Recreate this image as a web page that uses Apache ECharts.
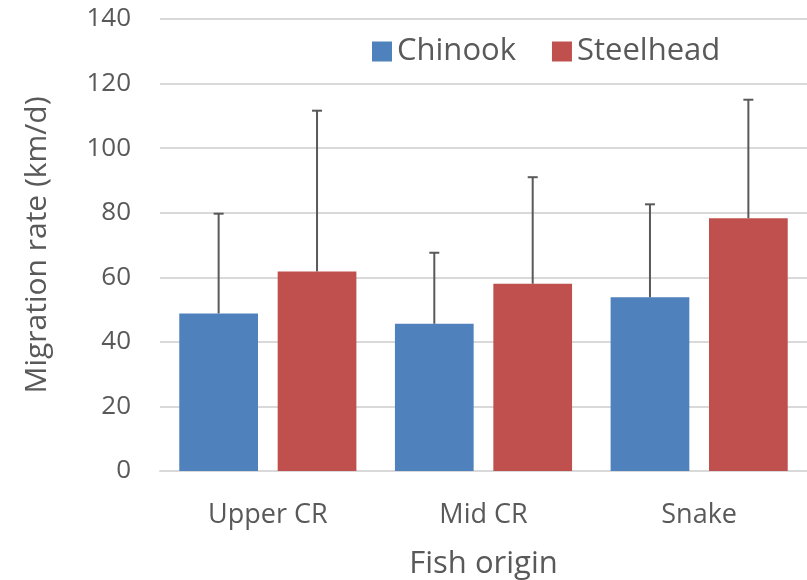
<!DOCTYPE html>
<html lang="en">
<head>
<meta charset="UTF-8">
<script src="https://cdn.jsdelivr.net/npm/echarts/dist/echarts.min.js"></script>
<title>Migration rate by fish origin</title>
<style>
    body { margin: 0; background: #fff; }
    #chart { width: 807px; height: 580px; }
</style>
</head>
<body>
<div id="chart"></div>
<script>
const origins = ['Upper CR', 'Mid CR', 'Snake'];
const chinook = [48.8, 45.6, 53.8];
const steelhead = [61.8, 58.0, 78.3];
const chinookUpper = [79.7, 67.6, 82.6];
const steelheadUpper = [111.6, 91.0, 115.0];

const chart = echarts.init(document.getElementById('chart'));
const font = '"Open Sans", Lato, sans-serif';
const textColor = '#595959';
const barPct = 0.365;

// error bars drawn beside the matching bar
function errorBar(upper, side) {
    return {
        type: 'custom',
        silent: true,
        z: 3,
        data: upper.map((v, i) => [i, v, side === -1 ? chinook[i] : steelhead[i]]),
        renderItem: function (params, api) {
            const band = api.size([1, 0])[0];
            const w = band * barPct;
            const dx = side * w * 0.625;
            const top = api.coord([api.value(0), api.value(1)]);
            const base = api.coord([api.value(0), api.value(2)]);
            const x = top[0] + dx;
            const style = { stroke: '#595959', lineWidth: 2 };
            return {
                type: 'group',
                children: [
                    { type: 'line', shape: { x1: x, y1: base[1], x2: x, y2: top[1] }, style: style },
                    { type: 'line', shape: { x1: x - 5, y1: top[1], x2: x + 5, y2: top[1] }, style: style }
                ]
            };
        }
    };
}

chart.setOption({
    animation: false,
    textStyle: { fontFamily: font },
    grid: { left: 160, right: 0, top: 19, bottom: 109, outerBoundsMode: 'none' },
    legend: {
        data: ['Chinook', 'Steelhead'],
        left: 367,
        top: 31,
        icon: 'rect',
        itemWidth: 20,
        itemHeight: 20,
        itemGap: 36,
        textStyle: { fontSize: 31, color: textColor, fontFamily: font }
    },
    xAxis: {
        type: 'category',
        data: origins,
        name: 'Fish origin',
        nameLocation: 'middle',
        nameGap: 78,
        nameTextStyle: { fontSize: 31, color: textColor, fontFamily: font },
        axisLine: { lineStyle: { color: '#d9d9d9', width: 2 } },
        axisTick: { show: false },
        axisLabel: { fontSize: 27, color: textColor, margin: 31, fontFamily: font }
    },
    yAxis: {
        type: 'value',
        min: 0,
        max: 140,
        interval: 20,
        name: 'Migration rate (km/d)',
        nameLocation: 'middle',
        nameGap: 108,
        nameTextStyle: { fontSize: 30, color: textColor, fontFamily: font },
        axisLine: { show: false },
        axisTick: { show: false },
        axisLabel: { fontSize: 26, color: textColor, margin: 29, fontFamily: font },
        splitLine: { lineStyle: { color: '#d9d9d9', width: 2 } }
    },
    series: [
        {
            name: 'Chinook',
            type: 'bar',
            data: chinook,
            barWidth: '36.5%',
            barGap: '25%',
            itemStyle: { color: '#4f81bd' }
        },
        {
            name: 'Steelhead',
            type: 'bar',
            data: steelhead,
            barWidth: '36.5%',
            barGap: '25%',
            itemStyle: { color: '#c0504d' }
        },
        errorBar(chinookUpper, -1),
        errorBar(steelheadUpper, 1)
    ]
});
</script>
</body>
</html>
